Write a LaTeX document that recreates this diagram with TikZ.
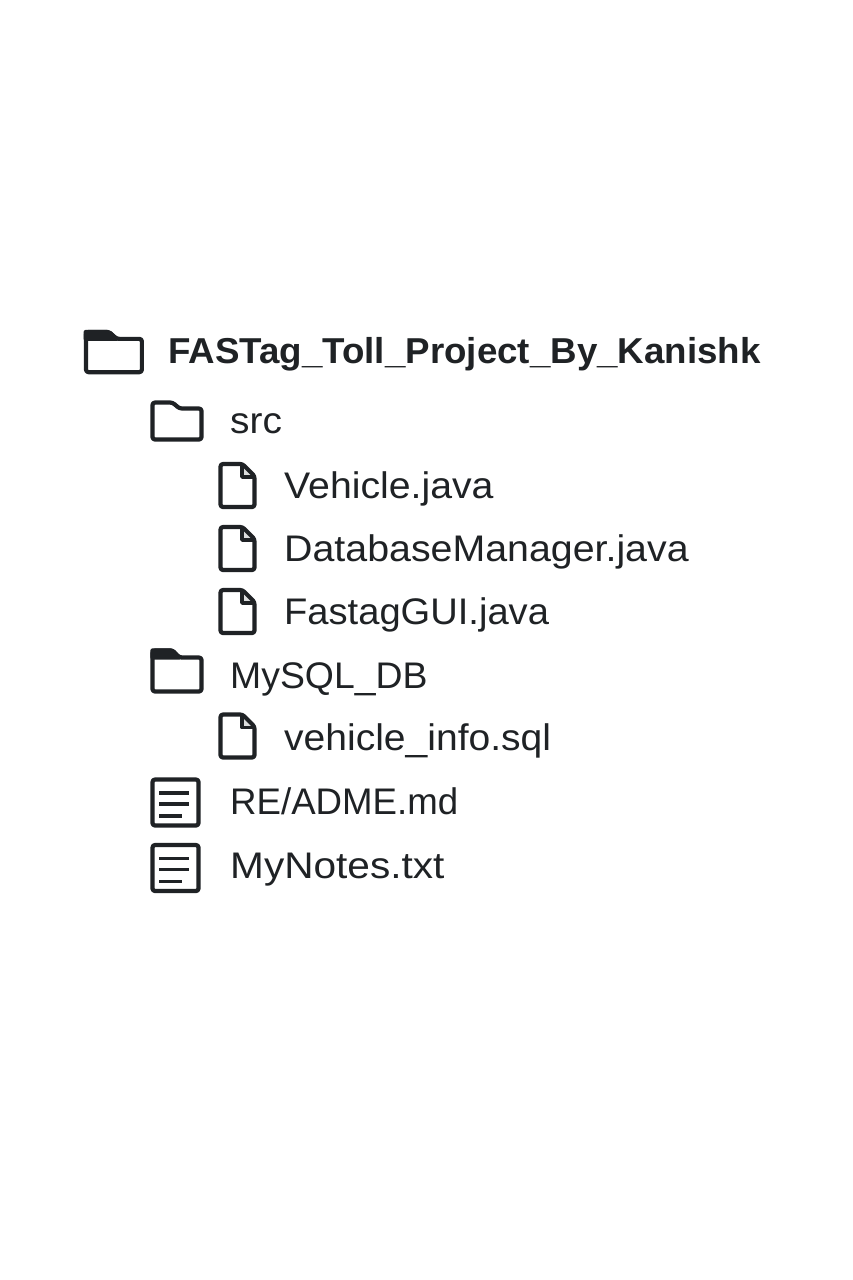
\documentclass[tikz,border=0pt]{standalone}
\usepackage{xcolor}
\usepackage{fontspec}
\setmainfont{Liberation Sans}
\definecolor{inkdark}{HTML}{1F2225}
\newcommand{\widen}[2]{\scalebox{#1}[1]{#2}}
\tikzset{
	itemlabel/.style={anchor=base west, inner sep=0pt, text=inkdark, font=\fontsize{37}{37}\selectfont},
	rootlabel/.style={anchor=base west, inner sep=0pt, text=inkdark, font=\fontsize{36}{36}\selectfont\bfseries},
	iconline/.style={draw=inkdark, line width=4.2pt, line join=round, rounded corners=2.5pt},
	folderpic/.pic={
		\draw[iconline] (0,0) -- (20,0) -- (27,6) -- (49,6) -- (49,37) -- (0,37) -- cycle;
	},
	folderfullpic/.pic={
		\fill[inkdark, rounded corners=2pt] (-2.1,-2.1) -- (21,-2.1) -- (29,7) -- (29,9) -- (-2.1,9) -- cycle;
		\draw[iconline] (0,0) -- (20,0) -- (27,7) -- (49,7) -- (49,41) -- (0,41) -- cycle;
	},
	filepic/.pic={
		\fill[inkdark!15] (21.5,0) -- (34,13) -- (21.5,13) -- cycle;
		\draw[iconline] (0,0) -- (22,0) -- (34,12) -- (34,43) -- (0,43) -- cycle;
		\draw[inkdark, line width=3.6pt, line join=round] (21.5,0) -- (21.5,13) -- (34,13);
	},
	docpic/.pic={
		\draw[iconline] (0,0) rectangle (46,46);
		\foreach \ypos/\xend in {13.5/36.5, 24.5/36.5, 36.5/29.5}
			\draw[inkdark, line width=3.8pt] (6.5,\ypos) -- (\xend,\ypos);
	},
}
\begin{document}
\begin{tikzpicture}[x=1pt, y=-1pt]
	\useasboundingbox[fill=white] (0,0) rectangle (853,1280);
	% icons
	\pic[xscale=1.14, yscale=0.98] at (86,332) {folderfullpic};
	\pic at (152.5,402.5) {folderpic};
	\pic at (220.5,464) {filepic};
	\pic at (220.5,527) {filepic};
	\pic at (220.5,590) {filepic};
	\pic at (152.5,650.5) {folderfullpic};
	\pic at (220.5,714.5) {filepic};
	\pic at (152.5,779.5) {docpic};
	\pic at (152.5,845) {docpic};
	% labels
	\node[rootlabel] (root) at (168,363.5) {\widen{1.02}{FASTag\_Toll\_Project\_By\_Kanishk}};
	\node[itemlabel] (src) at (230,433.5) {\widen{1.05}{src}};
	\node[itemlabel] (vehicle) at (284,498) {\widen{1.06}{Vehicle.java}};
	\node[itemlabel] (dbmanager) at (284,561) {\widen{1.063}{DatabaseManager.java}};
	\node[itemlabel] (gui) at (284,624) {\widen{1.03}{FastagGUI.java}};
	\node[itemlabel] (mysqldb) at (230,688) {\widen{1.01}{MySQL\_DB}};
	\node[itemlabel] (vehicleinfo) at (284,750) {\widen{1.055}{vehicle\_info.sql}};
	\node[itemlabel] (readme) at (230,814) {\widen{0.99}{RE/ADME.md}};
	\node[itemlabel] (notes) at (230,878) {\widen{1.097}{MyNotes.txt}};
\end{tikzpicture}
\end{document}
